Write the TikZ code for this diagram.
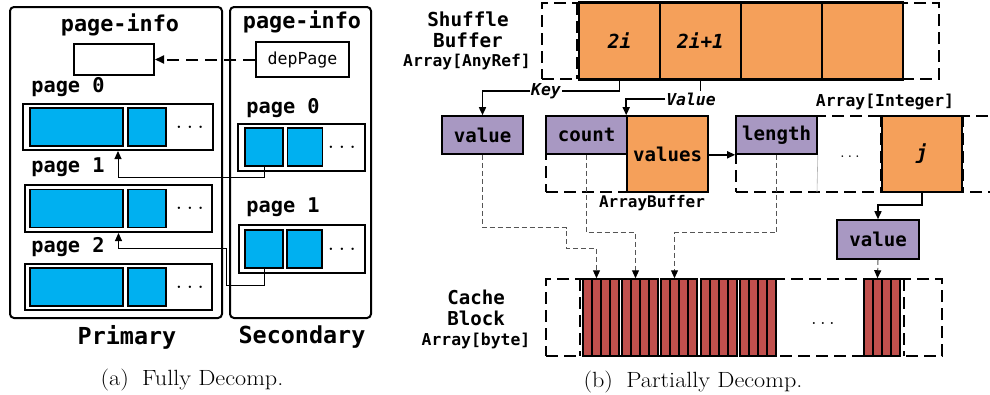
\documentclass[tikz,border=0pt]{standalone}
\usepackage{fontspec}
\setmonofont{DejaVu Sans Mono}
\usetikzlibrary{arrows.meta,calc}
\definecolor{cblue}{RGB}{0,176,240}
\definecolor{corange}{RGB}{245,160,90}
\definecolor{cpurple}{RGB}{168,152,194}
\definecolor{cred}{RGB}{192,80,77}
\definecolor{cgray}{RGB}{85,85,85}
\newcommand\mfont[1]{\fontsize{#1}{#1}\selectfont\ttfamily\bfseries}
\newcommand\mifont[1]{\fontsize{#1}{#1}\selectfont\ttfamily\bfseries\itshape}
\newcommand\mnfont[1]{\fontsize{#1}{#1}\selectfont\ttfamily}
\begin{document}
\begin{tikzpicture}[x=1pt,y=-1pt,
  lbl/.style={inner sep=0pt, font=\mfont{#1}},
  ilbl/.style={inner sep=1pt, fill=white, font=\mifont{#1}},
  panel/.style={draw, line width=2pt, rounded corners=4pt, inner sep=0pt},
  rowbox/.style={draw, line width=2pt, fill=white, inner sep=0pt},
  bcell/.style={draw, line width=1.6pt, fill=cblue, inner sep=0pt, minimum height=38pt},
  dbox/.style={draw, line width=2pt, dash pattern=on 12pt off 6pt, inner sep=0pt},
  pbox/.style={draw, line width=1.6pt, fill=cpurple, inner sep=0pt, font=\mfont{19.1}},
  obox/.style={draw, line width=1.6pt, fill=corange, inner sep=0pt},
  stripe/.style={draw, line width=1.5pt, fill=cred, inner sep=0pt, minimum width=9pt, minimum height=77pt},
  dotsn/.style={inner sep=0pt, font=\fontsize{#1}{#1}\selectfont},
  capn/.style={inner sep=0pt, font=\fontsize{22}{22}\selectfont},
  tarr/.style={line width=1pt, -{Triangle[length=8pt,width=7pt]}},
  karr/.style={line width=1.5pt, -{Triangle[length=8pt,width=7pt]}},
  garr/.style={line width=1pt, cgray, dash pattern=on 5pt off 3pt, -{Triangle[length=8pt,width=7pt,color=black]}}
]
\useasboundingbox (0,0) rectangle (990,394);

% ---------- (a) Fully Decomp. ----------
\node[panel, minimum width=212pt, minimum height=311pt] (prim) at (116,162.5) {};
\node[panel, minimum width=141pt, minimum height=311pt] (sec) at (300.5,162.5) {};
\node[lbl=21.8] (pia) at (120,25) {page-info};
\node[lbl=21.8] (pib) at (302,22) {page-info};
\node[rowbox, minimum width=80pt, minimum height=31pt] (wbox) at (114,59.5) {};
\node[rowbox, minimum width=93pt, minimum height=35pt, font=\mnfont{16.6}] (dep) at (302.5,59.5) {depPage};
\draw[line width=2pt, dash pattern=on 12pt off 7pt, -{Triangle[length=9pt,width=8pt]}] (dep.west) -- (wbox.east);

\node[lbl=20.3] (pl0) at (68,87) {page 0};
\node[lbl=20.3] (pl1) at (68,167) {page 1};
\node[lbl=20.3] (pl2) at (68,247) {page 2};
\node[rowbox, minimum width=190pt, minimum height=46pt] (r0) at (118,127) {};
\node[rowbox, minimum width=187pt, minimum height=47pt] (r1) at (118.5,208.5) {};
\node[rowbox, minimum width=187pt, minimum height=46pt] (r2) at (118.5,287) {};
\foreach \r/\cy in {0/127,1/208.5,2/287}{
  \node[bcell, minimum width=93pt] (ra\r) at (76.5,\cy) {};
  \node[bcell, minimum width=38pt] (rb\r) at (147,\cy) {};
  \node[dotsn=25] (rd\r) at (190,\cy) {$\ldots$};
}
\node[lbl=20.3] (sl0) at (283,108) {page 0};
\node[lbl=20.3] (sl1) at (283,207) {page 1};
\node[rowbox, minimum width=127pt, minimum height=47pt] (s0) at (301.5,147.5) {};
\node[rowbox, minimum width=126pt, minimum height=48pt] (s1) at (302,249) {};
\node[bcell, minimum width=38pt] (sa0) at (264,147) {};
\node[bcell, minimum width=35pt] (sb0) at (305,147) {};
\node[dotsn=25] (sd0) at (342,147) {$\ldots$};
\node[bcell, minimum width=38pt] (sa1) at (264,249) {};
\node[bcell, minimum width=35pt] (sb1) at (304.5,249) {};
\node[dotsn=25] (sd1) at (342,249) {$\ldots$};

\draw[tarr] (sa0.south) -- ++(0,11) -| (r0.south);
\coordinate (jn) at (226,248);
\draw[tarr] (sa1.south) -- ++(0,17) -| (jn) -| (r1.south);

\node[lbl=23.4] (lprim) at (127,337) {Primary};
\node[lbl=23.4] (lsec) at (302,337) {Secondary};
\node[capn] (capa) at (192,380) {\scalebox{1.1}[1]{(a)\hspace{0.55em}Fully Decomp.}};

% ---------- (b) Partially Decomp. ----------
\node[lbl=19.3] (sh1) at (468,19) {Shuffle};
\node[lbl=19.3] (sh2) at (468,40) {Buffer};
\node[lbl=16.3] (sh3) at (467,62) {Array[AnyRef]};
\node[dbox, minimum width=397pt, minimum height=76pt] (sbuf) at (740.5,41) {};
\draw[line width=2pt, dash pattern=on 12pt off 6pt] (577,3) -- (577,79);
\node[obox, minimum width=81pt, minimum height=76pt, font=\mifont{19.4}] (c1) at (619.5,41) {2i};
\node[obox, minimum width=81pt, minimum height=76pt, font=\mifont{19.4}] (c2) at (700.5,41) {2i+1};
\node[obox, minimum width=81pt, minimum height=76pt] (c3) at (781.5,41) {};
\node[obox, minimum width=81pt, minimum height=76pt] (c4) at (862.5,41) {};
\draw[line width=2pt] (c1.north west) -- (c4.north east) (c1.south west) -- (c4.south east);

% ArrayBuffer
\node[dbox, minimum width=162pt, minimum height=76pt] (abuf) at (627,154) {};
\node[pbox, minimum width=81pt, minimum height=38pt] (cnt) at (586.5,135) {count};
\node[obox, minimum width=81pt, minimum height=76pt, font=\mfont{19.1}] (vals) at (667.5,154) {values};
\node[lbl=16] (labuf) at (652,203) {ArrayBuffer};

\node[pbox, minimum width=81pt, minimum height=38pt] (v1) at (482.5,135) {value};

% Array[Integer]
\node[dbox, minimum width=259pt, minimum height=76pt] (aint) at (865.5,154) {};
\node[pbox, minimum width=81pt, minimum height=38pt] (len) at (776.5,135) {length};
\draw[line width=0.6pt, black!30] (len.south east) -- (817,192);
\node[dotsn=18] (aid) at (850,157) {$\ldots$};
\node[obox, minimum width=80pt, minimum height=76pt, font=\mifont{19.4}] (jb) at (922,154) {j};
\draw[line width=2pt, dash pattern=on 12pt off 6pt] (jb.north west) -- (jb.south west) (jb.north east) -- (jb.south east);
\node[lbl=16.4] (laint) at (885,102) {Array[Integer]};
\node[pbox, minimum width=82pt, minimum height=39pt] (v2) at (878,239.5) {value};

% Key / Value arrows
\node[ilbl=16.4] (key) at (546,91) {Key};
\draw[line width=1.5pt] (c1.south) |- (key.east);
\draw[karr] (key.west) -| (v1.north);
\node[ilbl=16.4] (vlab) at (691,99) {Value};
\draw[line width=1.5pt] (c2.south) -- (c2.south |- vlab.north);
\draw[karr] (vlab.west) -| (vals.north west);
\draw[karr] (vals.east |- len.south) -- (len.south west);
\draw[karr] (jb.south) -- ++(0,12) -| (v2.north);

% Cache block
\node[lbl=19.1] (cb1) at (476,297) {Cache};
\node[lbl=19.1] (cb2) at (476,318) {Block};
\node[lbl=16.4] (cb3) at (476,341) {Array[byte]};
\node[dbox, minimum width=396pt, minimum height=77pt] (cache) at (744,317.5) {};
\draw[line width=2pt, dash pattern=on 12pt off 6pt] (580,279) -- (580,356) (904,279) -- (904,356);
\foreach \g/\gx in {1/583,2/622,3/661,4/701,5/740,6/864}{
  \foreach \s in {0,...,3}{
    \node[stripe] (g\g s\s) at ({\gx+4.5+9*\s},317.5) {};
  }
}
\node[dotsn=22] (cd) at (823,323) {$\ldots$};

% dashed grey connectors
\coordinate (t1) at (566,248);
\draw[garr] (v1.south) -- ++(0,73) -| (t1) -| (g1s1.north);
\draw[garr] (cnt.south) -- ++(0,78) -| (g2s1.north);
\draw[garr] (len.south) -- ++(0,78) -| (g3s1.north);
\draw[garr] (v2.south) -- (g6s1.north);

\node[capn] (capb) at (693,382) {\scalebox{1.1}[1]{(b)\hspace{0.55em}Partially Decomp.}};
\end{tikzpicture}
\end{document}
